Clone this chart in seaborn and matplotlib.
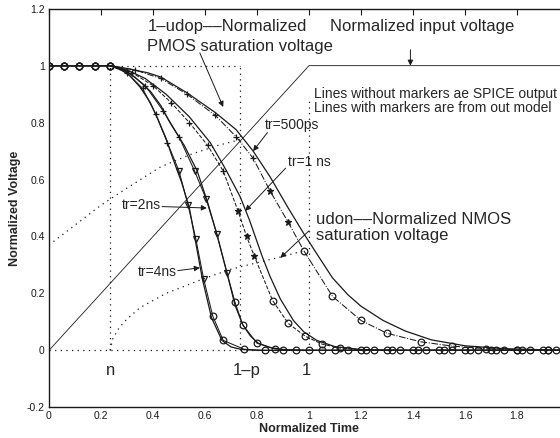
import matplotlib
matplotlib.use("Agg")
import matplotlib.pyplot as plt
import seaborn as sns

sns.set_theme(style="white")
plt.rcParams['font.family'] = ['Liberation Sans', 'DejaVu Sans']

# --- datos ---
input_x = [0.0, 1.0, 2.0]
input_y = [0.0, 1.0, 1.0]

# salidas SPICE (lineas sin marcadores)
spice_500_x = [0.0, 0.235, 0.3, 0.38, 0.43, 0.53, 0.64, 0.72, 0.785, 0.85, 0.92, 0.98, 1.04, 1.09,
               1.15, 1.2, 1.285, 1.37, 1.47, 1.6, 1.75, 1.9, 2.0]
spice_500_y = [1.0, 1.0, 0.99, 0.975, 0.96, 0.905, 0.835, 0.775, 0.70, 0.61, 0.50, 0.41, 0.325, 0.255,
               0.195, 0.155, 0.105, 0.068, 0.037, 0.016, 0.006, 0.002, 0.0]
spice_1n_x = [0.0, 0.235, 0.3, 0.37, 0.45, 0.54, 0.62, 0.68, 0.735, 0.77, 0.82, 0.85, 0.89, 0.94,
              0.98, 1.03, 1.1, 1.2, 1.35, 2.0]
spice_1n_y = [1.0, 1.0, 0.985, 0.955, 0.90, 0.82, 0.73, 0.635, 0.54, 0.46, 0.33, 0.26, 0.18, 0.105,
              0.065, 0.035, 0.013, 0.003, 0.0, 0.0]
spice_2n_x = [0.0, 0.235, 0.28, 0.33, 0.39, 0.43, 0.465, 0.52, 0.57, 0.61, 0.645, 0.685, 0.715, 0.745,
              0.775, 0.805, 0.85, 0.9, 1.0, 2.0]
spice_2n_y = [1.0, 1.0, 0.99, 0.96, 0.91, 0.86, 0.80, 0.72, 0.63, 0.52, 0.41, 0.27, 0.16, 0.09,
              0.05, 0.025, 0.01, 0.003, 0.0, 0.0]
spice_4n_x = [0.0, 0.235, 0.27, 0.31, 0.35, 0.39, 0.42, 0.45, 0.47, 0.49, 0.51, 0.54, 0.56, 0.59,
              0.625, 0.665, 0.7, 0.74, 0.8, 2.0]
spice_4n_y = [1.0, 1.0, 0.99, 0.965, 0.925, 0.87, 0.81, 0.745, 0.69, 0.64, 0.59, 0.50, 0.40, 0.25,
              0.115, 0.035, 0.012, 0.003, 0.0, 0.0]

# salidas del modelo (lineas con marcadores)
model_500_x = [0.0, 0.058, 0.117, 0.176, 0.235, 0.33, 0.43, 0.53, 0.64, 0.72, 0.785, 0.85, 0.92, 0.98,
               1.09, 1.2, 1.3, 1.43, 1.55, 1.68, 1.8, 1.92, 2.0]
model_500_y = [1.0, 1.0, 1.0, 1.0, 1.0, 0.985, 0.955, 0.90, 0.825, 0.75, 0.675, 0.56, 0.45, 0.35,
               0.19, 0.105, 0.06, 0.03, 0.015, 0.006, 0.002, 0.0, 0.0]
model_1n_x = [0.0, 0.058, 0.117, 0.176, 0.235, 0.32, 0.40, 0.47, 0.54, 0.61, 0.67, 0.727, 0.76, 0.79,
              0.86, 0.92, 0.985, 1.05, 1.12, 1.22, 1.32, 1.42, 1.52, 1.62, 1.72, 1.82, 1.92]
model_1n_y = [1.0, 1.0, 1.0, 1.0, 1.0, 0.975, 0.93, 0.87, 0.80, 0.72, 0.63, 0.49, 0.40, 0.33,
              0.175, 0.095, 0.05, 0.022, 0.008, 0.0, 0.0, 0.0, 0.0, 0.0, 0.0, 0.0, 0.0]
model_2n_x = [0.0, 0.058, 0.117, 0.176, 0.235, 0.3, 0.37, 0.44, 0.5, 0.56, 0.605, 0.645, 0.685, 0.715,
              0.745, 0.8, 0.87, 0.95, 1.05, 1.15, 1.25, 1.35, 1.45, 1.55, 1.65, 1.75, 1.85, 1.95]
model_2n_y = [1.0, 1.0, 1.0, 1.0, 1.0, 0.98, 0.93, 0.84, 0.75, 0.63, 0.53, 0.41, 0.27, 0.17,
              0.09, 0.025, 0.005, 0.0, 0.0, 0.0, 0.0, 0.0, 0.0, 0.0, 0.0, 0.0, 0.0, 0.0]
model_4n_x = [0.0, 0.058, 0.117, 0.176, 0.235, 0.3, 0.36, 0.41, 0.455, 0.5, 0.535, 0.565, 0.595, 0.63,
              0.67, 0.75, 0.83, 0.9, 1.0, 1.1, 1.2, 1.3, 1.4, 1.5, 1.6, 1.7, 1.8, 1.9, 2.0]
model_4n_y = [1.0, 1.0, 1.0, 1.0, 1.0, 0.975, 0.92, 0.83, 0.73, 0.63, 0.51, 0.39, 0.25, 0.12,
              0.035, 0.004, 0.0, 0.0, 0.0, 0.0, 0.0, 0.0, 0.0, 0.0, 0.0, 0.0, 0.0, 0.0, 0.0]

# tensiones de saturacion (punteadas)
udop_x = [0.0, 0.1, 0.2, 0.3, 0.43, 0.55, 0.65, 0.735]
udop_y = [0.37, 0.44, 0.51, 0.57, 0.645, 0.69, 0.72, 0.74]
udon_x = [0.235, 0.245, 0.27, 0.3, 0.35, 0.45, 0.59, 0.7, 0.81, 0.9, 0.98]
udon_y = [0.0, 0.04, 0.08, 0.11, 0.15, 0.20, 0.25, 0.285, 0.31, 0.33, 0.35]

n_point = 0.235
p_point = 0.735

xticks = [0, 0.2, 0.4, 0.6, 0.8, 1, 1.2, 1.4, 1.6, 1.8, 2]
xtick_labels = ["0", "0.2", "0.4", "0.6", "0.8", "1", "1.2", "1.4", "1.6", "1.8", ""]
yticks = [-0.2, 0, 0.2, 0.4, 0.6, 0.8, 1, 1.2]
ytick_labels = ["-0.2", "0", "0.2", "0.4", "0.6", "0.8", "1", "1.2"]

fig = plt.figure(figsize=(5.6, 4.38), dpi=100)
ax = fig.add_axes([0.0875, 0.0701, 0.9286, 0.9100])

dots = (0, (1, 3.5))

# lineas de referencia punteadas
ax.plot([n_point, n_point], [0, 1], ls=dots, color='k', lw=0.9)
ax.plot([p_point, p_point], [0, 1], ls=dots, color='k', lw=0.9)
ax.plot([1.0, 1.0], [0, 0.88], ls=dots, color='k', lw=0.9)
ax.plot([n_point, p_point], [1, 1], ls=dots, color='k', lw=0.9)
ax.plot([0, 1.0], [0, 0], ls=dots, color='k', lw=0.9)
sns.lineplot(x=udop_x, y=udop_y, ax=ax, estimator=None, sort=False, color='k', lw=0.9, ls=dots)
sns.lineplot(x=udon_x, y=udon_y, ax=ax, estimator=None, sort=False, color='k', lw=0.9, ls=dots)

# entrada
sns.lineplot(x=input_x, y=input_y, ax=ax, estimator=None, sort=False, color='k', lw=0.6)

# SPICE
for xs, ys in [(spice_500_x, spice_500_y), (spice_1n_x, spice_1n_y),
               (spice_2n_x, spice_2n_y), (spice_4n_x, spice_4n_y)]:
    sns.lineplot(x=xs, y=ys, ax=ax, estimator=None, sort=False, color='k', lw=0.9)

# modelo: (x, y, estilo de linea, marcador alto, marcador medio, umbral alto, umbral bajo)
models = [
    (model_500_x, model_500_y, '-.', '+', '*', 0.6, 0.4),
    (model_1n_x, model_1n_y, '--', '+', '*', 0.55, 0.2),
    (model_2n_x, model_2n_y, '-', '+', 'v', 0.65, 0.2),
    (model_4n_x, model_4n_y, '-', '+', 'v', 0.65, 0.2),
]
for xs, ys, ls, m_hi, m_mid, hi, lo in models:
    sns.lineplot(x=xs, y=ys, ax=ax, estimator=None, sort=False, color='k', lw=0.75, ls=ls)
    for xv, yv in zip(xs, ys):
        if xv <= n_point + 0.001 or yv < lo:
            mk = 'o'
        elif yv >= hi:
            mk = m_hi
        else:
            mk = m_mid
        filled = mk in ('*',)
        ax.plot(xv, yv, marker=mk, ms=4.8, mew=0.9, color='k',
                mfc='k' if filled else 'none', ls='none')

# textos
ax.text(0.38, 1.138, "1\u2013udop\u2013\u2013Normalized", fontsize=12, va='center')
ax.text(0.375, 1.069, "PMOS saturation voltage", fontsize=12, va='center')
ax.text(1.08, 1.138, "Normalized input voltage", fontsize=12, va='center')
ax.text(1.02, 0.90, "Lines without markers ae SPICE output", fontsize=10, va='center')
ax.text(1.02, 0.85, "Lines with markers are from out model", fontsize=10, va='center')
ax.text(0.83, 0.79, "tr=500ps", fontsize=10, va='center')
ax.text(0.92, 0.66, "tr=1 ns", fontsize=10, va='center')
ax.text(0.43, 0.51, "tr=2ns", fontsize=10, va='center', ha='right')
ax.text(0.49, 0.275, "tr=4ns", fontsize=10, va='center', ha='right')
ax.text(1.026, 0.458, "udon\u2013\u2013Normalized NMOS", fontsize=12, va='center')
ax.text(1.026, 0.405, "saturation voltage", fontsize=12, va='center')
ax.text(n_point, -0.07, "n", fontsize=12, va='center', ha='center')
ax.text(0.76, -0.07, "1\u2013p", fontsize=12, va='center', ha='center')
ax.text(0.99, -0.07, "1", fontsize=12, va='center', ha='center')

arrow = dict(arrowstyle='-|>', color='k', lw=0.7, mutation_scale=8, shrinkA=0, shrinkB=0)
ax.annotate('', xy=(1.39, 1.0), xytext=(1.39, 1.056), arrowprops=arrow)
ax.annotate('', xy=(0.67, 0.855), xytext=(0.58, 1.045), arrowprops=arrow)
ax.annotate('', xy=(0.785, 0.70), xytext=(0.84, 0.765), arrowprops=arrow)
ax.annotate('', xy=(0.755, 0.49), xytext=(0.91, 0.64), arrowprops=arrow)
ax.annotate('', xy=(0.607, 0.50), xytext=(0.435, 0.505), arrowprops=arrow)
ax.annotate('', xy=(0.58, 0.29), xytext=(0.495, 0.28), arrowprops=arrow)
ax.annotate('', xy=(0.89, 0.325), xytext=(1.0, 0.42), arrowprops=arrow)

ax.set_xlim(0, 2)
ax.set_ylim(-0.2, 1.2)
ax.set_xticks(xticks)
ax.set_xticklabels(xtick_labels)
ax.set_yticks(yticks)
ax.set_yticklabels(ytick_labels)
ax.tick_params(direction='in', length=4, width=0.8, top=True, right=True,
               labelsize=7.5, pad=3, colors='k')
for sp in ax.spines.values():
    sp.set_color('k')
    sp.set_linewidth(1.0)
ax.set_xlabel('Normalized Time', fontsize=9, fontweight='bold', labelpad=1)
ax.set_ylabel('Normalized Voltage', fontsize=9, fontweight='bold', labelpad=4)

fig.savefig('out.png', dpi=100)
